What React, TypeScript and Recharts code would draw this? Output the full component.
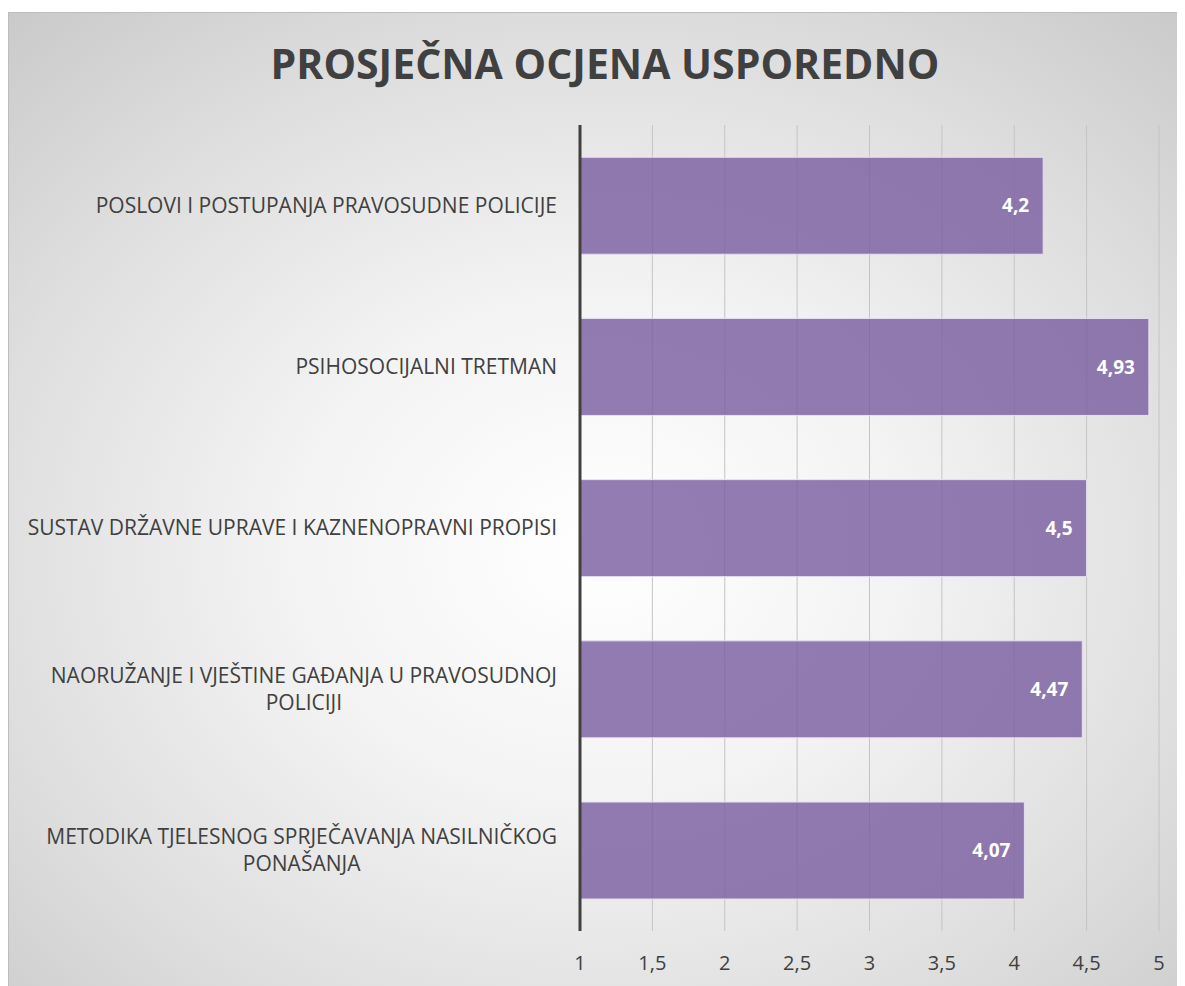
import React from "react";
import { Bar, BarChart, CartesianGrid, LabelList, XAxis, YAxis } from "recharts";

const categories = [
  "POSLOVI I POSTUPANJA PRAVOSUDNE POLICIJE",
  "PSIHOSOCIJALNI TRETMAN",
  "SUSTAV DRŽAVNE UPRAVE I KAZNENOPRAVNI PROPISI",
  "NAORUŽANJE I VJEŠTINE GAĐANJA U PRAVOSUDNOJ\nPOLICIJI",
  "METODIKA TJELESNOG SPRJEČAVANJA NASILNIČKOG\nPONAŠANJA",
];
const averages = [4.2, 4.93, 4.5, 4.47, 4.07];
const xTicks = [1, 1.5, 2, 2.5, 3, 3.5, 4, 4.5, 5];

const data = categories.map((name, i) => ({ name, avg: averages[i] }));

const FONT = "'Open Sans', sans-serif";
const LABEL_SIZE = 21;

let ctx: CanvasRenderingContext2D | null = null;
function measure(text: string) {
  if (!ctx) ctx = document.createElement("canvas").getContext("2d");
  if (!ctx) return text.length * 12;
  ctx.font = `${LABEL_SIZE}px 'Open Sans'`;
  return ctx.measureText(text).width;
}

const fmt = (v: number) => String(v).replace(".", ",");

function CategoryTick(props: any) {
  const { x, y, payload } = props;
  const lines = String(payload.value).split("\n");
  const lh = 27;
  const start = y - ((lines.length - 1) * lh) / 2;
  if (lines.length === 1) {
    return (
      <text x={x} y={y} dy={7} textAnchor="end" fill="#404040" fontSize={LABEL_SIZE} fontFamily={FONT}>
        {lines[0]}
      </text>
    );
  }
  const w = Math.max(...lines.map(measure));
  return (
    <g>
      {lines.map((l, i) => (
        <text key={i} x={x - w / 2} y={start + i * lh} dy={7} textAnchor="middle" fill="#404040" fontSize={LABEL_SIZE} fontFamily={FONT}>
          {l}
        </text>
      ))}
    </g>
  );
}

export default function App() {
  return (
    <div
      style={{
        position: "relative",
        marginTop: 4,
        width: 1177,
        height: 974,
        boxSizing: "border-box",
        borderTop: "1px solid #bdbdbd",
        borderLeft: "1px solid #bdbdbd",
        background: "radial-gradient(ellipse 75% 75% at 50% 55%, #ffffff 0%, #f3f3f3 35%, #dedede 70%, #c9c9c9 100%)",
        fontFamily: FONT,
      }}
    >
      <div
        style={{
          position: "absolute",
          top: 22,
          left: 0,
          width: 1192,
          textAlign: "center",
          fontSize: 41,
          fontWeight: 700,
          color: "#404040",
        }}
      >
        PROSJEČNA OCJENA USPOREDNO
      </div>
      <BarChart
        width={1176}
        height={973}
        data={data}
        layout="vertical"
        margin={{ top: 112, right: 26, bottom: 0, left: 0 }}
        barCategoryGap="20%"
        style={{ position: "absolute", top: 0, left: 0 }}
      >
        <CartesianGrid horizontal={false} stroke="#c4c4c4" />
        <XAxis
          type="number"
          domain={[1, 5]}
          ticks={xTicks}
          interval={0}
          tickFormatter={fmt}
          axisLine={false}
          tickLine={false}
          height={55}
          tickMargin={19}
          tick={{ fill: "#404040", fontSize: 20, fontFamily: FONT }}
        />
        <YAxis
          type="category"
          dataKey="name"
          width={571}
          axisLine={{ stroke: "#404040", strokeWidth: 3 }}
          tickLine={false}
          tickMargin={17}
          interval={0}
          tick={<CategoryTick />}
        />
        <Bar dataKey="avg" fill="#7b5fa0" fillOpacity={0.82} stroke="#e8e0f2" strokeWidth={1} isAnimationActive={false}>
          <LabelList dataKey="avg" position="insideRight" offset={14} formatter={(v: any) => fmt(v)} fill="#ffffff" fontSize={19} fontWeight={700} fontFamily={FONT} />
        </Bar>
      </BarChart>
    </div>
  );
}
